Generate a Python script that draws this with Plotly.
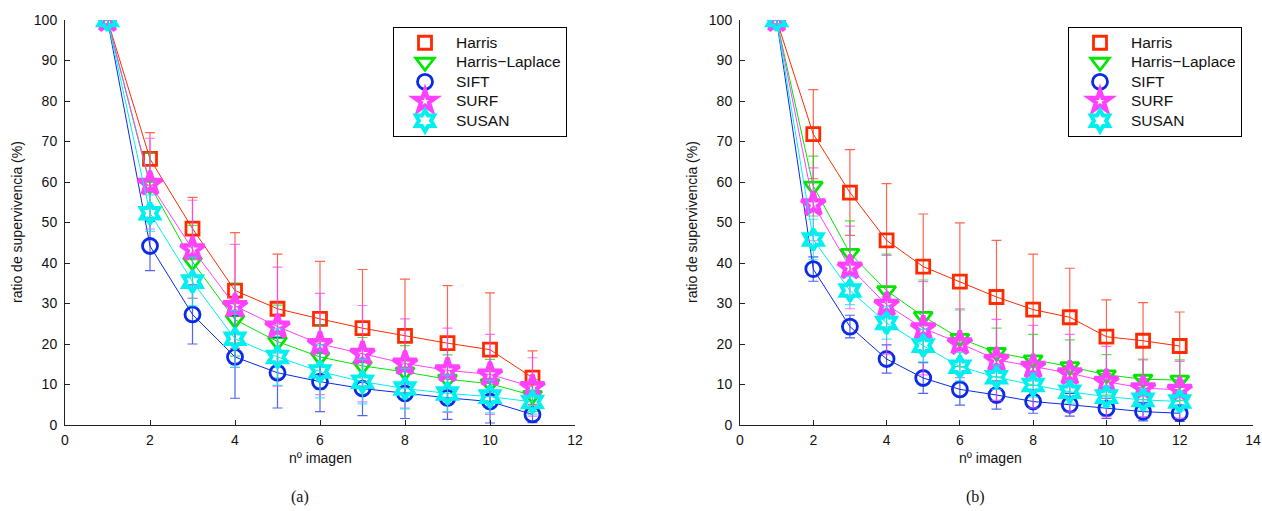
import plotly.graph_objects as go

# ---------------- data ----------------
x_a = [1, 2, 3, 4, 5, 6, 7, 8, 9, 10, 11]
harris_a = [100, 65.7, 48.5, 33.2, 28.7, 26.2, 23.9, 22.0, 20.2, 18.6, 11.7]
harris_a_err = [0, 6.5, 7.7, 14.3, 13.5, 14.2, 14.5, 14.0, 14.2, 14.0, 6.6]
hl_a = [100, 59.2, 40.3, 26.0, 20.6, 16.8, 14.6, 13.1, 11.3, 10.2, 7.3]
hl_a_err = [0, 8, 9, 9, 9, 8, 7, 6.5, 6, 6, 4]
sift_a = [100, 44.2, 27.3, 16.8, 12.9, 10.7, 9.0, 7.8, 6.7, 5.8, 2.6]
sift_a_err = [0, 6.1, 7.3, 10.2, 8.7, 7.4, 6.7, 6.2, 5.3, 5.3, 2.0]
surf_a = [100, 59.6, 43.4, 29.4, 24.3, 20.0, 17.6, 15.2, 13.5, 12.5, 9.4]
surf_a_err = [0, 11.2, 12.1, 15.2, 14.7, 12.5, 11.9, 11.0, 10.4, 9.9, 7.2]
susan_a = [100, 52.3, 35.4, 21.3, 16.8, 13.2, 10.7, 9.0, 7.8, 7.0, 5.7]
susan_a_err = [0, 4.5, 6, 7, 7, 6.5, 5.5, 5, 4.5, 4, 3]

x_b = [1, 2, 3, 4, 5, 6, 7, 8, 9, 10, 11, 12]
harris_b = [100, 71.8, 57.4, 45.6, 39.1, 35.4, 31.6, 28.5, 26.6, 21.8, 20.8, 19.5]
harris_b_err = [0, 11.0, 10.6, 14.0, 13.0, 14.5, 14.0, 13.7, 12.1, 9.1, 9.4, 8.4]
hl_b = [100, 59.0, 42.4, 33.2, 26.8, 21.4, 17.9, 16.1, 14.4, 12.4, 11.3, 11.1]
hl_b_err = [0, 7.4, 8.0, 9.0, 9.0, 7.0, 6.0, 6.3, 6.6, 5.0, 5.0, 5.0]
sift_b = [100, 38.5, 24.3, 16.3, 11.6, 8.8, 7.4, 5.8, 5.0, 4.1, 3.3, 2.9]
sift_b_err = [0, 3.0, 2.8, 3.5, 3.8, 3.9, 3.5, 2.9, 2.8, 2.5, 2.3, 2.0]
surf_b = [100, 54.5, 38.9, 29.7, 23.9, 20.2, 16.1, 14.4, 12.8, 10.7, 9.1, 8.7]
surf_b_err = [0, 9.0, 10.2, 12.2, 11.5, 8.5, 10.0, 10.2, 9.6, 8.7, 7.0, 7.0]
susan_b = [100, 45.8, 33.2, 25.2, 19.6, 14.4, 11.8, 9.9, 8.2, 7.0, 6.2, 5.8]
susan_b_err = [0, 5.0, 3.5, 4.0, 4.0, 3.5, 3.0, 3.0, 2.8, 2.5, 2.5, 2.3]

series_names = ["Harris", "Harris\u2212Laplace", "SIFT", "SURF", "SUSAN"]
x_ticks_a = [0, 2, 4, 6, 8, 10, 12]
x_ticks_b = [0, 2, 4, 6, 8, 10, 12, 14]
y_ticks = [0, 10, 20, 30, 40, 50, 60, 70, 80, 90, 100]

# ---------------- styles ----------------
colors = ["#ff2a00", "#00e600", "#0a2ae8", "#ff40ff", "#00f0f0"]
err_colors = ["rgba(255,50,20,0.75)", "rgba(0,220,0,0.7)", "rgba(20,50,235,0.75)",
              "rgba(255,70,255,0.75)", "rgba(0,235,235,0.75)"]
symbols = ["square-open", "triangle-down-open", "circle-open", "star-open", "hexagram-open"]
sizes = [13, 16, 15, 18, 16]
lwidths = [2.8, 2.8, 2.8, 4.2, 4.0]
FONT = "Liberation Sans, Arial, Helvetica, sans-serif"

# body margin is removed by the post script, so the figure fills the window
OFF = 0
W, H = 1262, 511


def px(x):
    return (x - OFF) / W


def py(y):
    return 1 - (y - OFF) / H


fig = go.Figure()

panels = [
    (x_a, [harris_a, hl_a, sift_a, surf_a, susan_a],
     [harris_a_err, hl_a_err, sift_a_err, surf_a_err, susan_a_err], "x", "y", "legend"),
    (x_b, [harris_b, hl_b, sift_b, surf_b, susan_b],
     [harris_b_err, hl_b_err, sift_b_err, surf_b_err, susan_b_err], "x2", "y2", "legend2"),
]

for xs, ys_list, err_list, xa, ya, leg in panels:
    for i, (ys, es) in enumerate(zip(ys_list, err_list)):
        fig.add_trace(go.Scatter(
            x=xs, y=ys, xaxis=xa, yaxis=ya, mode="lines+markers",
            line=dict(color=colors[i], width=1),
            marker=dict(symbol=symbols[i], size=sizes[i], color=colors[i],
                        line=dict(color=colors[i], width=lwidths[i])),
            error_y=dict(type="data", array=es, visible=True, color=err_colors[i],
                         thickness=1.2, width=5),
            showlegend=False, hoverinfo="x+y",
        ))
    for i in range(5):
        fig.add_trace(go.Scatter(
            x=[None], y=[None], xaxis=xa, yaxis=ya, mode="markers",
            name='<span style="font-size:15.5px">' + series_names[i] + "</span>",
            legend=leg,
            marker=dict(symbol=symbols[i], size=sizes[i], color=colors[i],
                        line=dict(color=colors[i], width=lwidths[i])),
        ))

y_dom = [py(425), py(20)]

axis_common = dict(
    showgrid=False, zeroline=False, showline=True, linecolor="#222222", linewidth=1,
    ticks="inside", ticklen=5, tickcolor="#222222", mirror=False,
    tickfont=dict(family=FONT, size=14, color="#111111"),
    ticklabeloverflow="allow",
)

legend_common = dict(
    xanchor="left", yanchor="top", bordercolor="black", borderwidth=1, bgcolor="white",
    font=dict(family=FONT, size=12.7, color="#111111"),
    itemsizing="trace", tracegroupgap=0, itemwidth=52,
)

fig.update_layout(
    width=W, height=H,
    paper_bgcolor="white", plot_bgcolor="white",
    margin=dict(l=0, r=0, t=0, b=0, autoexpand=False),
    xaxis=dict(domain=[px(65), px(575)], range=[0, 12], tickvals=x_ticks_a,
               anchor="y", ticklabelstandoff=2, **axis_common),
    yaxis=dict(domain=y_dom, range=[0, 100], tickvals=y_ticks, anchor="x",
               ticklabelstandoff=4, **axis_common),
    xaxis2=dict(domain=[px(740), px(1253)], range=[0, 14], tickvals=x_ticks_b,
                anchor="y2", ticklabelstandoff=2, **axis_common),
    yaxis2=dict(domain=y_dom, range=[0, 100], tickvals=y_ticks, anchor="x2",
                ticklabelstandoff=4, **axis_common),
    legend=dict(x=px(393), y=py(27), **legend_common),
    legend2=dict(x=px(1068), y=py(27), **legend_common),
    showlegend=True,
)

ann_font = dict(family=FONT, size=14, color="#111111")
for cx in [320, 990]:
    fig.add_annotation(x=px(cx), y=py(458), xref="paper", yref="paper",
                       xanchor="center", yanchor="middle",
                       text="nº imagen", showarrow=False, font=ann_font)
for cx in [17, 692]:
    fig.add_annotation(x=px(cx), y=py(222), xref="paper", yref="paper",
                       xanchor="center", yanchor="middle",
                       text="ratio de supervivencia (%)", showarrow=False,
                       textangle=-90, font=ann_font)
for cx, t in [(300, "(a)"), (975, "(b)")]:
    fig.add_annotation(x=px(cx), y=py(497), xref="paper", yref="paper",
                       xanchor="center", yanchor="middle",
                       text=t, showarrow=False,
                       font=dict(family="Liberation Serif, Times New Roman, serif",
                                 size=16, color="#111111"))

post = ("document.body.style.margin='0px';"
        "document.body.style.overflow='hidden';"
        "document.documentElement.style.overflow='hidden';")
fig.write_html("out.html", post_script=post, config={"displayModeBar": False})
